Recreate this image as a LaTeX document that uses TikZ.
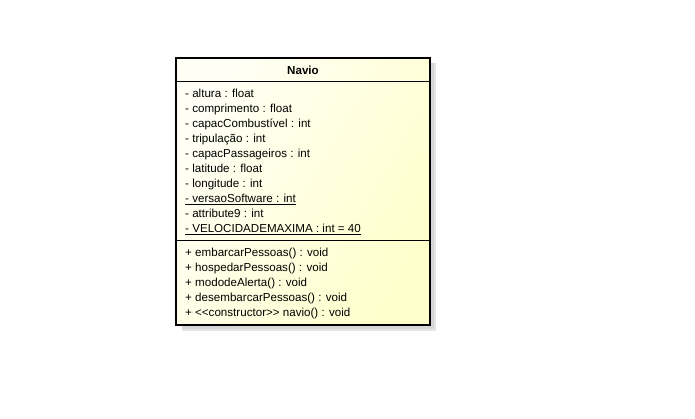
\documentclass[tikz,border=0pt]{standalone}
\usepackage{fontspec}
\setmainfont{Liberation Sans}
\begin{document}
\begin{tikzpicture}[x=1pt,y=-1pt,
  attr/.style={anchor=mid west,inner sep=0pt,yshift=-1pt,font=\fontsize{11.6}{13}\selectfont},
  ttl/.style={anchor=mid,inner sep=0pt,font=\fontsize{11.6}{13}\selectfont\bfseries},
  divline/.style={line width=0.9pt,black}]
\useasboundingbox (0,0) rectangle (695,418);
\fill[white] (0,0) rectangle (695,418);
% shadow
\fill[black!10] (182,63) rectangle (436,331);
\fill[black!16] (182,63) rectangle (434,329);
% box
\coordinate (tl) at (176,58);
\coordinate (br) at (430,325);
\shade[left color={rgb,255:red,255;green,255;blue,246},right color={rgb,255:red,255;green,255;blue,204},shading angle=60] (tl) rectangle (br);
\draw[line width=2pt] (tl) rectangle (br);
\coordinate (d1l) at (176,81.5);
\coordinate (d1r) at (430,81.5);
\coordinate (d2l) at (176,240.5);
\coordinate (d2r) at (430,240.5);
\draw[divline] (d1l) -- (d1r);
\draw[divline] (d2l) -- (d2r);
\node[ttl] (title) at (303,71.5) {Navio};
\node[attr] (a1) at (185,93.5) {- altura : float};
\node[attr] (a2) at (185,108.5) {- comprimento : float};
\node[attr] (a3) at (185,123.5) {- capacCombustível : int};
\node[attr] (a4) at (185,138.5) {- tripulação : int};
\node[attr] (a5) at (185,154) {- capacPassageiros : int};
\node[attr] (a6) at (185,169) {- latitude : float};
\node[attr] (a7) at (185,184) {- longitude : int};
\node[attr] (a8) at (185,199) {\underline{- versaoSoftware : int}};
\node[attr] (a9) at (185,214) {- attribute9 : int};
\node[attr] (a10) at (185,229) {\underline{- VELOCIDADEMAXIMA : int = 40}};
\node[attr] (m1) at (185,252.5) {+ embarcarPessoas() : void};
\node[attr] (m2) at (185,267.5) {+ hospedarPessoas() : void};
\node[attr] (m3) at (185,282.5) {+ mododeAlerta() : void};
\node[attr] (m4) at (185,297.5) {+ desembarcarPessoas() : void};
\node[attr] (m5) at (185,312.5) {+ <{}<constructor>{}> navio() : void};
\end{tikzpicture}
\end{document}
